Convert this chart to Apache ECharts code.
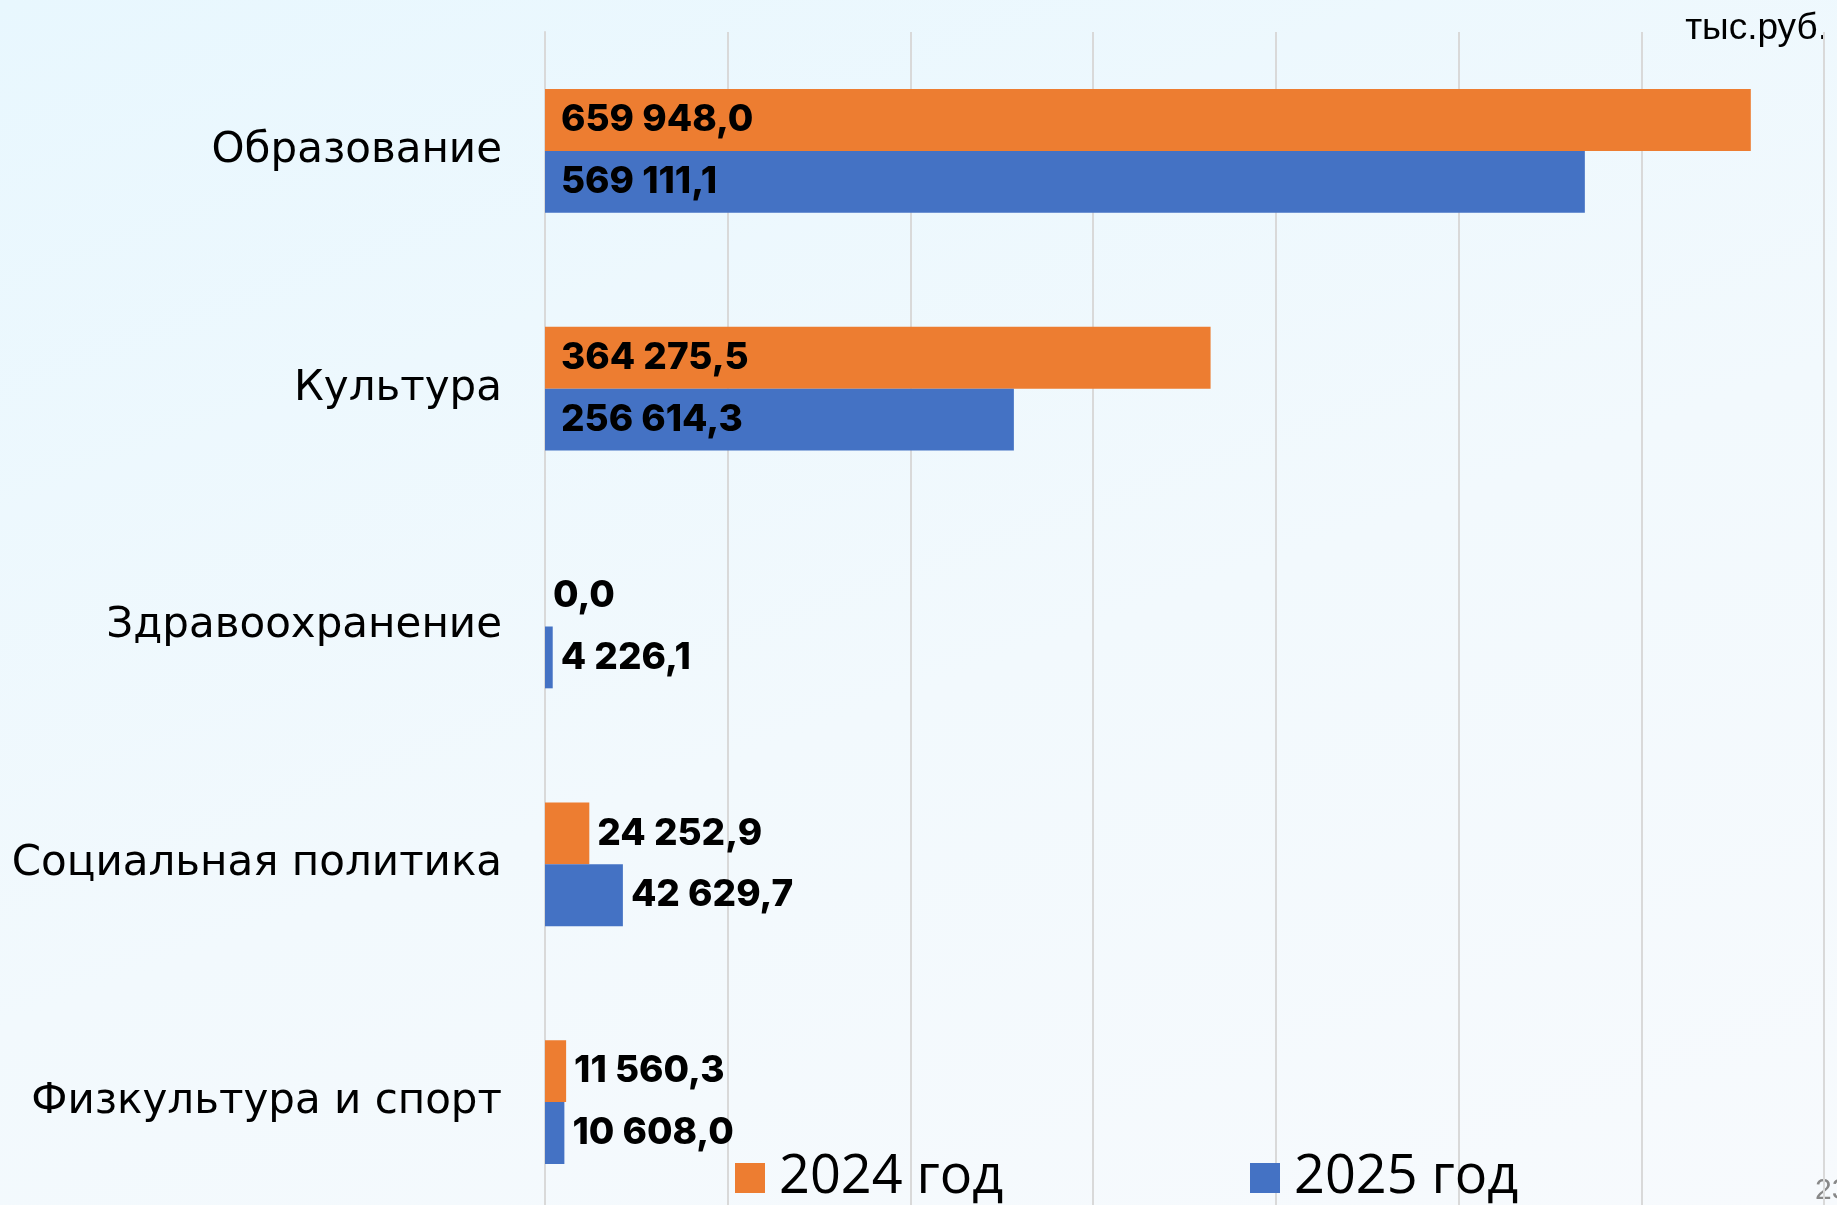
<!DOCTYPE html>
<html>
<head>
<meta charset="utf-8">
<script src="https://cdn.jsdelivr.net/npm/echarts@6/dist/echarts.min.js"></script>
<style>
  html, body { margin: 0; padding: 0; }
  body { background: linear-gradient(160deg, #e8f7fe 0%, #f2f9fd 55%, #f7fafd 100%); }
  #chart { width: 1837px; height: 1205px; }
</style>
</head>
<body>
<div id="chart"></div>
<script>
// категории (сверху вниз)
const categories = ["Образование", "Культура", "Здравоохранение", "Социальная политика", "Физкультура и спорт"];
// значения, тыс.руб.
const values2024 = [659948.0, 364275.5, 0.0, 24252.9, 11560.3];
const values2025 = [569111.1, 256614.3, 4226.1, 42629.7, 10608.0];
const seriesNames = ["2024 год", "2025 год"];
const xTicks = [0, 700000, 100000]; // min, max, interval

const chart = echarts.init(document.getElementById("chart"));

// формат 659 948,0
function fmt(v) {
  const parts = v.toFixed(1).split(".");
  return parts[0].replace(/\B(?=(\d{3})+(?!\d))/g, " ") + "," + parts[1];
}

// большие столбцы — подпись внутри, маленькие — справа
function toData(arr) {
  return arr.map(function (v) {
    const inside = v > 100000;
    return {
      value: v,
      label: inside
        ? { position: "insideLeft", distance: 16 }
        : { position: "right", distance: 8 }
    };
  });
}

const labelStyle = {
  show: true,
  formatter: function (p) { return fmt(p.value); },
  fontFamily: "Inter",
  fontWeight: 800,
  fontSize: 37,
  color: "#000"
};

const legendText = { fontFamily: "Open Sans", fontSize: 54, color: "#000", padding: [0, 0, 0, 9] };

const option = {
  backgroundColor: "transparent",
  animation: false,
  grid: { left: 545, right: 13, top: 32, height: 1189, outerBoundsMode: "none" },
  xAxis: {
    type: "value",
    min: xTicks[0],
    max: xTicks[1],
    interval: xTicks[2],
    axisLabel: { show: false },
    axisLine: { show: false },
    axisTick: { show: false },
    splitLine: { lineStyle: { color: "#d9d9d9", width: 2 } }
  },
  yAxis: {
    type: "category",
    inverse: true,
    data: categories,
    axisLine: { lineStyle: { color: "#d9d9d9", width: 2 } },
    axisTick: { inside: true, length: 12, lineStyle: { color: "#d9d9d9", width: 2 } },
    axisLabel: {
      fontFamily: "DejaVu Sans",
      fontSize: 42,
      color: "#000",
      margin: 43
    }
  },
  legend: [
    {
      left: 730, top: 1146,
      data: [seriesNames[0]],
      icon: "rect", itemWidth: 30, itemHeight: 30,
      textStyle: legendText
    },
    {
      left: 1245, top: 1146,
      data: [seriesNames[1]],
      icon: "rect", itemWidth: 30, itemHeight: 30,
      textStyle: legendText
    }
  ],
  graphic: [
    {
      type: "text", right: 9, top: 10,
      style: { text: "тыс.руб.", font: "37px 'Liberation Sans'", fill: "#000" }
    },
    {
      type: "text", left: 1815, top: 1176,
      style: { text: "23", font: "30px 'Liberation Sans'", fill: "#888" }
    }
  ],
  series: [
    {
      name: seriesNames[0],
      type: "bar",
      data: toData(values2024),
      itemStyle: { color: "#ed7d31" },
      barGap: "0%",
      barCategoryGap: "48%",
      label: labelStyle
    },
    {
      name: seriesNames[1],
      type: "bar",
      data: toData(values2025),
      itemStyle: { color: "#4472c4" },
      barGap: "0%",
      barCategoryGap: "48%",
      label: labelStyle
    }
  ]
};

chart.setOption(option);
</script>
</body>
</html>
